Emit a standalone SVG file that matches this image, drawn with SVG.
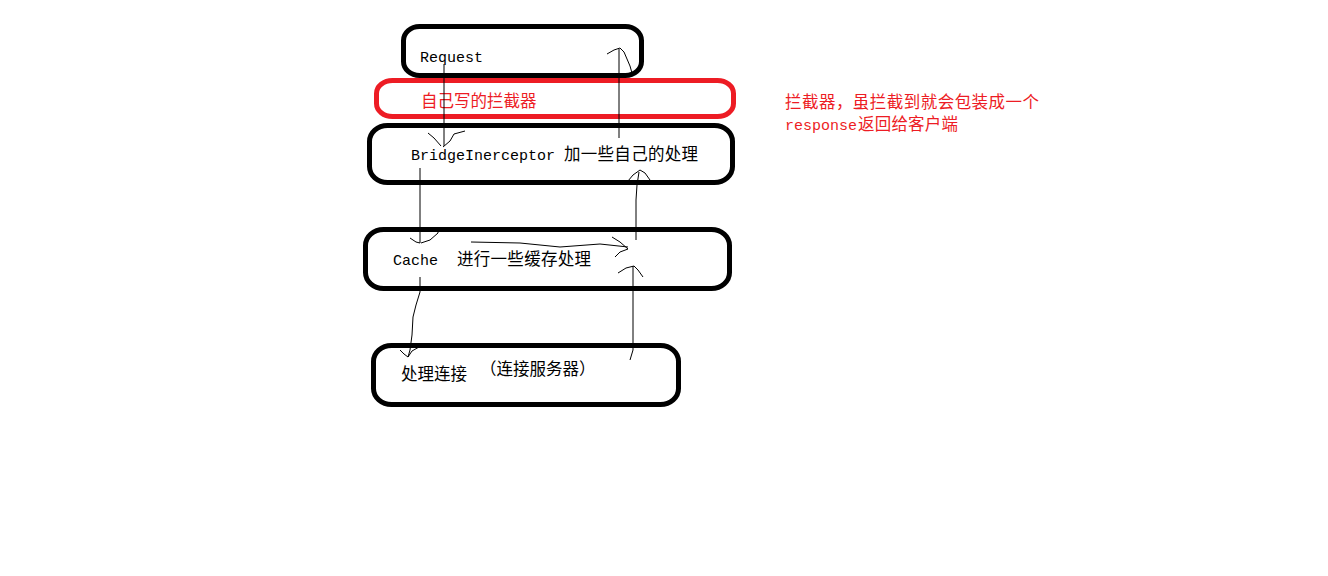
<svg xmlns="http://www.w3.org/2000/svg" width="1328" height="576" viewBox="0 0 1328 576">
<style>
.box{fill:none;stroke:#000;stroke-width:5}
.rbox{fill:none;stroke:#ed1c24;stroke-width:5}
.lat{font-family:"Liberation Mono",monospace;font-size:15px;fill:#000}
.cjk{font-family:"Noto Sans CJK SC",sans-serif;font-size:16.5px;fill:#000}
.red{fill:#ed1c24}
.ln{fill:none;stroke:#000;stroke-width:1}
</style>
<rect x="0" y="0" width="1328" height="576" fill="#fff"/>
<g id="request">
<rect class="box" x="403.5" y="26.5" width="238" height="49" rx="16" ry="14"/>
<text class="lat" x="420" y="62">Request</text>
</g>
<g id="custom-interceptor">
<rect class="rbox" x="376.5" y="80.5" width="357" height="36" rx="16" ry="13"/>
<text class="cjk red" x="421" y="107">自己写的拦截器</text>
</g>
<g id="bridge">
<rect class="box" x="369.5" y="125.5" width="363" height="57" rx="18" ry="16"/>
<text x="411" y="160"><tspan class="lat">BridgeInerceptor</tspan><tspan class="cjk" x="564" textLength="134">加一些自己的处理</tspan></text>
</g>
<g id="cache">
<rect class="box" x="365.5" y="229.5" width="364" height="59" rx="18" ry="16"/>
<text x="393" y="265"><tspan class="lat">Cache</tspan><tspan class="cjk" x="457" textLength="134">进行一些缓存处理</tspan></text>
</g>
<g id="connect">
<rect class="box" x="373.5" y="345.5" width="305" height="59" rx="18" ry="16"/>
<text class="cjk" x="401" y="380">处理连接</text>
<text class="cjk" x="480" y="375">（连接服务器）</text>
</g>
<g id="note">
<text class="cjk red" x="785" y="108" textLength="254">拦截器，虽拦截到就会包装成一个</text>
<text x="785" y="130"><tspan class="lat red">response</tspan><tspan class="cjk red" x="858" textLength="100">返回给客户端</tspan></text>
</g>
<g id="connectors">
<path class="ln" d="M444 64 L444 146"/>
<path class="ln" d="M428 133 L434 138 L441 146 M443 147 L450 141 L454 134 L465 131"/>
<path class="ln" d="M619 138 L619 49"/>
<path class="ln" d="M607 54 L614 50 L620 48 L624 52 L630 66 L632 73"/>
<path class="ln" d="M420 168 L420 243"/>
<path class="ln" d="M410 238 L416 242 L420 243 M421 243 L430 240 L438 233 L438 228"/>
<path class="ln" d="M471 242 L520 243 L560 247 L600 244 L628 247"/>
<path class="ln" d="M612 237 L620 242 L628 249 L620 252 L615 257"/>
<path class="ln" d="M636 240 L636 200 L637 185 L639 172"/>
<path class="ln" d="M628 181 L633 175 L640 170 L645 173 L650 180"/>
<path class="ln" d="M630 360 L633 350 L633 320 L633 266"/>
<path class="ln" d="M618 273 L626 268 L634 266 L638 270 L643 277"/>
<path class="ln" d="M420 277 L420 292 L416 305 L413 317 L412 335 L410 350 L408 357"/>
<path class="ln" d="M400 350 L404 354 L408 357 L412 351 L419 347"/>
</g>
</svg>
